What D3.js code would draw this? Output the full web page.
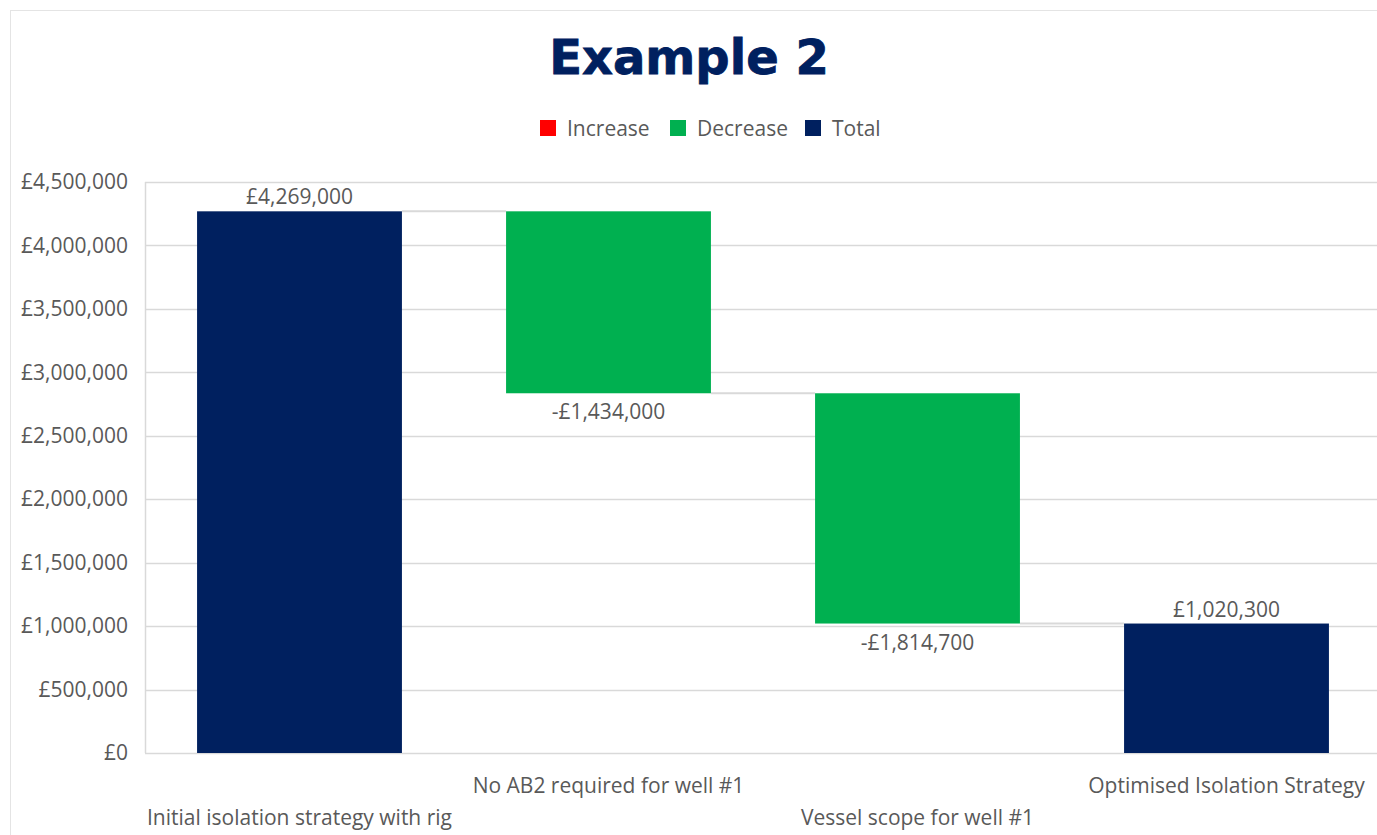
<!DOCTYPE html>
<html>
<head>
<meta charset="utf-8">
<script src="https://cdn.jsdelivr.net/npm/d3@7"></script>
<style>
  html, body { margin: 0; padding: 0; background: #fff; }
  svg { display: block; font-family: "Open Sans", "Noto Sans", sans-serif; }
</style>
</head>
<body>
<svg id="chart" width="1377" height="835"></svg>
<script>
// Waterfall steps
const categories = [
  "Initial isolation strategy with rig",
  "No AB2 required for well #1",
  "Vessel scope for well #1",
  "Optimised Isolation Strategy"
];
const values = [4269000, -1434000, -1814700, 1020300];
const kinds = ["total", "decrease", "decrease", "total"];
const yTicks = [0, 500000, 1000000, 1500000, 2000000, 2500000, 3000000, 3500000, 4000000, 4500000];
const legendItems = ["Increase", "Decrease", "Total"];

const colors = { increase: "#FF0000", decrease: "#00B050", total: "#00205F" };
const legendColors = [colors.increase, colors.decrease, colors.total];

const svg = d3.select("#chart");
const W = 1377, H = 835;
const textFont = "'Open Sans', 'Noto Sans', sans-serif";

// outer frame
svg.append("rect").attr("x", 10.5).attr("y", 10.5).attr("width", W).attr("height", H)
  .attr("fill", "none").attr("stroke", "#e4e4e4");

const plot = { left: 145, right: 1381, top: 182, bottom: 753 };

const x = d3.scaleBand().domain(categories).range([plot.left, plot.right]).paddingInner(0.337).paddingOuter(0.1685);
const y = d3.scaleLinear().domain([0, 4500000]).range([plot.bottom, plot.top]);

// running totals for each step
let running = 0;
const steps = categories.map((c, i) => {
  let start, end;
  if (kinds[i] === "total") { start = 0; end = values[i]; running = values[i]; }
  else { start = running; end = running + values[i]; running = end; }
  return { cat: c, value: values[i], kind: kinds[i], start, end };
});

// gridlines
svg.append("g").selectAll("line").data(yTicks).join("line")
  .attr("x1", plot.left).attr("x2", plot.right)
  .attr("y1", d => Math.round(y(d)) + 0.5).attr("y2", d => Math.round(y(d)) + 0.5)
  .attr("stroke", "#d9d9d9").attr("stroke-width", 1.5);
// left plot border
svg.append("line").attr("x1", plot.left + 0.5).attr("x2", plot.left + 0.5)
  .attr("y1", plot.top).attr("y2", plot.bottom).attr("stroke", "#d9d9d9").attr("stroke-width", 1.5);

// y axis labels
const fmt = d3.format(",.0f");
const money = v => (v < 0 ? "-£" : "£") + fmt(Math.abs(v));
const yAxis = d3.axisLeft(y).tickValues(yTicks).tickSize(0).tickPadding(17).tickFormat(money);
const ya = svg.append("g").attr("transform", `translate(${plot.left},0)`).call(yAxis);
ya.select(".domain").remove();
ya.selectAll("text").attr("font-size", 21).attr("fill", "#595959")
  .style("font-family", textFont);

// connectors between consecutive steps
const conn = [];
for (let i = 0; i < steps.length - 1; i++) {
  conn.push({ from: steps[i], to: steps[i + 1], level: steps[i].end });
}
svg.append("g").selectAll("line").data(conn).join("line")
  .attr("x1", d => x(d.from.cat) + x.bandwidth()).attr("x2", d => x(d.to.cat))
  .attr("y1", d => y(d.level)).attr("y2", d => y(d.level))
  .attr("stroke", "#d9d9d9").attr("stroke-width", 2);

// bars
svg.append("g").selectAll("rect").data(steps).join("rect")
  .attr("x", d => x(d.cat)).attr("width", x.bandwidth())
  .attr("y", d => y(Math.max(d.start, d.end)))
  .attr("height", d => Math.abs(y(d.start) - y(d.end)))
  .attr("fill", d => colors[d.kind]);

// value labels
svg.append("g").selectAll("text").data(steps).join("text")
  .attr("x", d => x(d.cat) + x.bandwidth() / 2)
  .attr("y", d => d.value < 0 ? y(d.end) + 26 : y(d.end) - 7)
  .attr("text-anchor", "middle").attr("font-size", 21).attr("fill", "#595959")
  .style("font-family", textFont)
  .text(d => money(d.value));

// category labels, staggered on two rows
svg.append("g").selectAll("text").data(categories).join("text")
  .attr("x", d => x(d) + x.bandwidth() / 2)
  .attr("y", (d, i) => i % 2 === 0 ? 825 : 793)
  .attr("text-anchor", "middle").attr("font-size", 21).attr("fill", "#595959")
  .style("font-family", textFont)
  .text(d => d);

// title
svg.append("text").attr("x", 689).attr("y", 74).attr("text-anchor", "middle")
  .style("font-family", "'DejaVu Sans', sans-serif").attr("font-weight", "bold")
  .attr("font-size", 48).attr("fill", "#00205F")
  .attr("stroke", "#00205F").attr("stroke-width", 0.8)
  .text("Example 2");

// legend
const legendX = [540, 670, 805];
const lg = svg.append("g").selectAll("g").data(legendItems).join("g")
  .attr("transform", (d, i) => `translate(${legendX[i]},120)`);
lg.append("rect").attr("width", 16).attr("height", 16).attr("fill", (d, i) => legendColors[i]);
lg.append("text").attr("x", 27).attr("y", 16).attr("font-size", 21).attr("fill", "#595959")
  .style("font-family", textFont).text(d => d);
</script>
</body>
</html>
